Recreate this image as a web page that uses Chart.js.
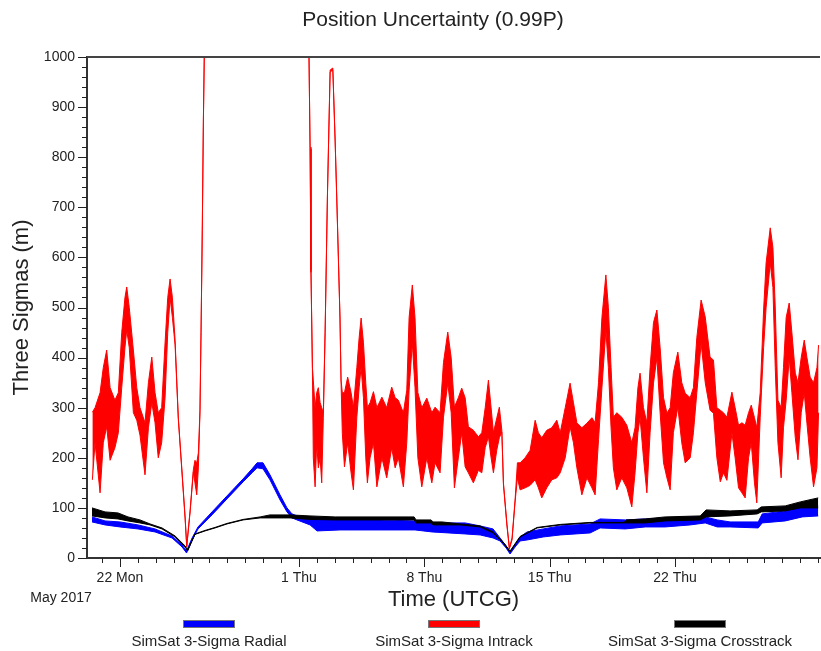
<!DOCTYPE html>
<html>
<head>
<meta charset="utf-8">
<title>Position Uncertainty (0.99P)</title>
<script src="https://cdn.jsdelivr.net/npm/chart.js@4.4.1/dist/chart.umd.min.js"></script>
<style>
  html, body { margin: 0; padding: 0; background: #fff; }
  #wrap { width: 821px; height: 651px; }
</style>
</head>
<body>
<div id="wrap"><canvas id="chart"></canvas></div>
<script>
// x values are days since 2017-05-01 00:00 UTCG
const xMin = 19.16;
const xMax = 60.1;
const tickDays = [21, 31, 38, 45, 52];
const tickLabels = ['22 Mon', '1 Thu', '8 Thu', '15 Thu', '22 Thu'];

// Intrack: upper / lower envelope of the 3-sigma band (null = off scale)
const intrackDays = [
  19.46, 19.61, 19.89, 20.07, 20.26, 20.45, 20.72, 20.91, 21.10, 21.28,
  21.38, 21.52, 21.75, 21.94, 22.12, 22.40, 22.59, 22.78, 22.96, 23.14,
  23.33, 23.52, 23.67, 23.80, 23.93, 24.08, 24.26, 24.45, 24.64, 24.73,
  24.92, 25.10, 25.19, 25.29, 25.38, 25.47, 25.53, 25.60, 25.66, 25.71,
  28.60,
  31.56, 31.62, 31.67, 31.75, 31.80, 31.90, 31.99, 32.08, 32.18, 32.27,
  32.36, 32.46, 32.59, 32.74, 32.89, 33.02, 33.11, 33.20, 33.29, 33.35,
  33.42, 33.54, 33.72, 33.91, 34.04, 34.23, 34.36, 34.47, 34.60, 34.73,
  34.82, 34.97, 35.16, 35.35, 35.63, 35.90, 36.18, 36.37, 36.55, 36.83,
  37.02, 37.15, 37.33, 37.48, 37.64, 37.86, 38.14, 38.42, 38.60, 38.88,
  39.07, 39.31, 39.50, 39.68, 39.90, 40.09, 40.28, 40.46, 40.74, 41.02,
  41.21, 41.40, 41.58, 41.73, 41.86, 42.05, 42.19, 42.33, 42.42, 42.61,
  42.75, 42.90, 43.07, 43.20, 43.35, 43.63, 43.91, 44.19, 44.37, 44.56,
  44.84, 45.12, 45.40, 45.59, 45.87, 46.14, 46.33, 46.52, 46.80, 47.08,
  47.36, 47.54, 47.73, 47.92, 48.14, 48.28, 48.43, 48.56, 48.75, 49.03,
  49.31, 49.59, 49.77, 49.93, 50.05, 50.24, 50.43, 50.61, 50.80, 50.99,
  51.17, 51.36, 51.55, 51.73, 51.91, 52.16, 52.38, 52.57, 52.85, 53.03,
  53.22, 53.46, 53.69, 53.96, 54.15, 54.34, 54.53, 54.71, 54.90, 55.18,
  55.36, 55.55, 55.74, 55.92, 56.11, 56.26, 56.44, 56.57, 56.76, 56.95,
  57.09, 57.32, 57.47, 57.60, 57.75, 57.93, 58.06, 58.21, 58.38, 58.53,
  58.72, 58.87, 59.05, 59.22, 59.37, 59.55, 59.74, 59.93, 60.02
];
const intrackHigh = [
  291, 300, 330, 380, 415, 340, 315, 330, 450, 520,
  541, 500, 415, 340, 300, 270, 350, 401, 330, 290,
  300, 430, 520, 557, 520, 435, 281, 182, 82, 24,
  96, 176, 195, 190, 210, 295, 455, 661, 874, 1000,
  null,
  1000, 820, 575, 381, 355, 300, 330, 340, 310, 300,
  290, 455, 728, 974, 978, 834, 721, 601, 481, 355,
  330, 330, 361, 330, 300, 380, 440, 479, 430, 349,
  300, 310, 332, 300, 321, 300, 341, 320, 315, 290,
  335, 480, 545, 480, 330, 300, 319, 290, 301, 290,
  390, 451, 400, 301, 320, 339, 320, 262, 255, 242,
  250, 300, 355, 300, 250, 280, 301, 255, 150, 70,
  20, 40, 116, 190, 190, 200, 215, 275, 250, 240,
  255, 260, 275, 250, 300, 349, 310, 270, 260, 269,
  280, 270, 350, 480, 565, 500, 380, 281, 290, 281,
  265, 230, 260, 340, 369, 300, 270, 380, 470, 495,
  420, 320, 289, 300, 370, 411, 350, 329, 320, 340,
  440, 515, 481, 401, 395, 300, 295, 290, 281, 331,
  300, 265, 270, 265, 290, 305, 280, 260, 330, 495,
  589, 659, 620, 501, 315, 300, 380, 480, 509, 450,
  369, 350, 400, 435, 400, 361, 350, 380, 425
];
const intrackLow = [
  156, 230, 130, 230, 262, 195, 220, 250, 340, 420,
  455, 420, 290, 275, 245, 166, 260, 310, 270, 200,
  230, 320, 450, 520, 480, 425, 277, 178, 78, 22,
  92, 172, 150, 126, 180, 290, 450, 656, 870, 1000,
  null,
  1000, 816, 570, 376, 200, 142, 230, 180, 200, 150,
  281, 450, 724, 970, 974, 830, 717, 597, 477, 351,
  249, 182, 230, 170, 136, 281, 340, 381, 320, 200,
  150, 200, 230, 142, 200, 160, 220, 180, 200, 142,
  230, 335, 429, 340, 200, 142, 200, 150, 190, 170,
  281, 349, 290, 140, 200, 250, 182, 170, 150, 175,
  170, 220, 242, 200, 170, 216, 240, 251, 146, 66,
  18, 36, 112, 160, 136, 140, 145, 156, 140, 120,
  140, 156, 160, 170, 200, 262, 230, 180, 126, 160,
  140, 126, 236, 340, 455, 380, 260, 180, 136, 160,
  140, 102, 170, 250, 281, 200, 130, 250, 349, 400,
  290, 190, 160, 136, 250, 301, 230, 190, 200, 250,
  330, 429, 350, 295, 289, 200, 152, 170, 155, 250,
  200, 140, 130, 120, 200, 230, 150, 110, 280, 420,
  500, 589, 540, 380, 230, 160, 260, 315, 400, 330,
  240, 196, 290, 330, 269, 200, 142, 180, 290
];

// Radial
const radialDays = [
  19.44, 20.17, 21.00, 22.01, 22.96, 23.91, 24.47, 24.72, 25.03, 25.36,
  26.14, 26.98, 27.88, 28.38, 28.66, 28.99, 29.38, 29.94, 30.33, 30.61,
  30.89, 31.62, 32.01, 33.29, 35.53, 37.48, 38.43, 40.28, 41.12, 41.84,
  42.23, 42.57, 42.79, 43.07, 43.35, 43.74, 44.64, 45.59, 47.26, 47.82,
  49.22, 50.34, 51.45, 52.85, 53.69, 54.36, 55.08, 56.65, 56.87, 58.16,
  59.11, 60.00
];
const radialHigh = [
  82, 74, 72, 66, 58, 44, 26, 14, 40, 62,
  92, 124, 158, 178, 190, 190, 166, 126, 100, 88,
  84, 82, 78, 78, 76, 74, 70, 70, 64, 58,
  40, 24, 12, 26, 42, 52, 58, 64, 68, 78,
  76, 78, 80, 82, 82, 76, 72, 72, 88, 94,
  102, 104
];
const radialLow = [
  72, 66, 62, 58, 52, 40, 22, 10, 36, 58,
  86, 118, 152, 170, 180, 178, 156, 116, 92, 80,
  76, 66, 54, 56, 56, 56, 52, 48, 46, 40,
  34, 20, 8, 22, 34, 36, 42, 46, 50, 60,
  58, 62, 62, 66, 70, 62, 62, 60, 70, 74,
  82, 84
];

// Crosstrack
const crossDays = [
  19.44, 20.17, 20.89, 21.45, 22.12, 22.68, 23.35, 24.08, 24.64, 24.78,
  25.19, 25.75, 26.31, 26.98, 27.88, 28.83, 29.38, 30.50, 31.62, 33.02,
  37.43, 37.54, 38.38, 38.49, 38.99, 40.00, 41.12, 41.84, 42.40, 42.79,
  43.35, 44.30, 45.59, 47.26, 49.16, 49.27, 50.34, 51.45, 53.41, 53.74,
  55.08, 56.59, 56.82, 58.16, 59.00, 60.00
];
const crossHigh = [
  100, 92, 90, 82, 76, 68, 60, 44, 24, 16,
  48, 55, 61, 69, 77, 82, 86, 86, 84, 82,
  82, 76, 76, 72, 72, 68, 64, 52, 32, 14,
  43, 61, 67, 71, 71, 76, 78, 82, 84, 96,
  94, 96, 102, 104, 112, 120
];
const crossLow = [
  84, 80, 78, 74, 70, 66, 58, 42, 22, 14,
  47, 54, 60, 68, 76, 80, 80, 80, 77, 76,
  76, 70, 70, 66, 66, 66, 62, 50, 30, 12,
  42, 60, 66, 70, 70, 70, 70, 74, 76, 82,
  84, 88, 92, 94, 100, 100
];

const seriesNames = ['SimSat 3-Sigma Radial', 'SimSat 3-Sigma Intrack', 'SimSat 3-Sigma Crosstrack'];
const seriesColors = ['#0000ff', '#ff0000', '#000000'];

const FONT = '"Liberation Sans", Arial, sans-serif';

function pts(days, vals) {
  return days.map((d, i) => ({ x: d, y: vals[i] }));
}

// each series is a filled band between its two envelopes
function band(name, color, days, hi, lo, order) {
  const common = { borderColor: color, backgroundColor: color, borderWidth: 1, pointRadius: 0, tension: 0, order };
  return [
    Object.assign({ label: name, data: pts(days, hi), fill: false }, common),
    Object.assign({ label: name + ' low', data: pts(days, lo), fill: '-1' }, common)
  ];
}

const decorations = {
  id: 'decorations',
  afterDraw(chart) {
    const { ctx, chartArea: area, scales: { x, y } } = chart;
    ctx.save();

    // top frame line
    ctx.strokeStyle = '#444';
    ctx.lineWidth = 2;
    ctx.beginPath();
    ctx.moveTo(area.left, area.top);
    ctx.lineTo(area.right, area.top);
    ctx.stroke();

    // tick marks: every 20 m / every day, long ones on labelled ticks
    ctx.strokeStyle = '#222';
    ctx.lineWidth = 1;
    ctx.beginPath();
    for (let v = 0; v <= 1000; v += 20) {
      const py = Math.round(y.getPixelForValue(v)) + 0.5;
      const len = v % 100 === 0 ? 9 : 5;
      ctx.moveTo(area.left - len, py);
      ctx.lineTo(area.left, py);
    }
    for (let d = Math.ceil(xMin); d <= xMax; d++) {
      const px = Math.round(x.getPixelForValue(d)) + 0.5;
      const len = tickDays.includes(d) ? 9 : 5;
      ctx.moveTo(px, area.bottom);
      ctx.lineTo(px, area.bottom + len);
    }
    ctx.stroke();

    ctx.fillStyle = '#222';
    ctx.textAlign = 'center';
    ctx.textBaseline = 'middle';

    ctx.font = '21px ' + FONT;
    ctx.fillText('Position Uncertainty (0.99P)', 433, 20);

    ctx.font = '14px ' + FONT;
    ctx.fillText('May 2017', 61, 598);

    // legend: swatch above each label
    const legendX = [209, 454, 700];
    ctx.font = '15px ' + FONT;
    seriesNames.forEach((name, i) => {
      const cx = legendX[i];
      ctx.fillStyle = seriesColors[i];
      ctx.fillRect(cx - 26, 620, 52, 8);
      ctx.strokeStyle = '#777';
      ctx.lineWidth = 1;
      ctx.strokeRect(cx - 26 + 0.5, 620.5, 51, 7);
      ctx.fillStyle = '#222';
      ctx.fillText(name, cx, 642);
    });

    ctx.restore();
  }
};

new Chart(document.getElementById('chart'), {
  type: 'line',
  data: {
    datasets: [
      ...band(seriesNames[1], seriesColors[1], intrackDays, intrackHigh, intrackLow, 0),
      ...band(seriesNames[2], seriesColors[2], crossDays, crossHigh, crossLow, 1),
      ...band(seriesNames[0], seriesColors[0], radialDays, radialHigh, radialLow, 2)
    ]
  },
  options: {
    responsive: true,
    maintainAspectRatio: false,
    animation: false,
    layout: { padding: { top: 57, right: 1, left: 0, bottom: 0 } },
    plugins: {
      legend: { display: false },
      tooltip: { enabled: false },
      title: { display: false }
    },
    scales: {
      x: {
        type: 'linear',
        min: xMin,
        max: xMax,
        afterBuildTicks: s => { s.ticks = tickDays.map(v => ({ value: v })); },
        afterFit: s => { s.height = 93; },
        grid: { display: false, drawTicks: false },
        border: { display: true, color: '#333', width: 2 },
        ticks: {
          autoSkip: false,
          maxRotation: 0,
          padding: 12,
          color: '#222',
          font: { family: FONT, size: 14 },
          callback: v => {
            const i = tickDays.indexOf(v);
            return i >= 0 ? tickLabels[i] : '';
          }
        },
        title: {
          display: true,
          text: 'Time (UTCG)',
          color: '#222',
          font: { family: FONT, size: 22 },
          padding: { top: 0, bottom: 38 }
        }
      },
      y: {
        min: 0,
        max: 1000,
        afterFit: s => { s.width = 87; },
        grid: { display: false, drawTicks: false },
        border: { display: true, color: '#333', width: 2 },
        ticks: {
          stepSize: 100,
          padding: 12,
          color: '#222',
          font: { family: FONT, size: 14 },
          callback: v => String(v)
        },
        title: {
          display: true,
          text: 'Three Sigmas (m)',
          color: '#222',
          font: { family: FONT, size: 22 },
          padding: { top: 9, bottom: 0 }
        }
      }
    }
  },
  plugins: [decorations]
});
</script>
</body>
</html>
